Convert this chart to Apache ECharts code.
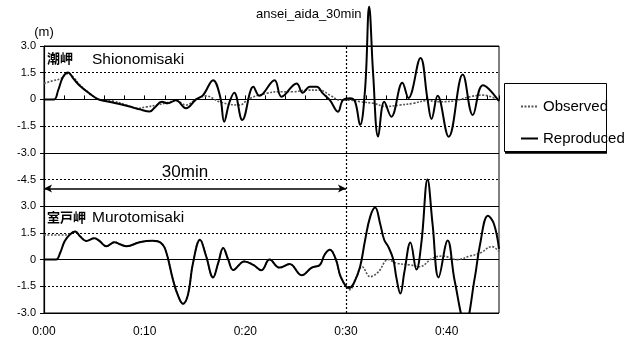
<!DOCTYPE html>
<html>
<head>
<meta charset="utf-8">
<script src="https://cdn.jsdelivr.net/npm/echarts@6/dist/echarts.min.js"></script>
<style>
  html, body { margin: 0; padding: 0; background: #fff; }
  #chart { width: 631px; height: 340px; }
</style>
</head>
<body>
<div id="chart"></div>
<script>
// 潮岬 / 室戸岬 observed vs reproduced tide (m), time in minutes
const shionoObsT = [0,0.9,1.7,2.4,3.0,3.5,4.5,5.5,6.9,8.2,9.2,10.2,11.2,12.2,13.1,14.1,15.1,16.1,17.5,19.4,20.4,22.1,23.4,24.7,26.1,27.4,28.4,29.4,30.4,31.4,32.7,34.0,35.3,36.7,38.0,39.3,40.9,42.3,43.6,45.2];
const shionoObsV = [0.9,1.05,1.18,1.46,1.2,0.85,0.35,0,-0.1,-0.32,-0.5,-0.42,-0.32,-0.19,-0.07,-0.32,0,0.19,-0.15,-0.32,0.05,0.34,0.43,0.43,0.52,0.52,0.24,-0.04,-0.04,-0.13,-0.22,-0.4,-0.32,-0.22,-0.07,-0.13,-0.07,0.15,0.24,-0.05];

const shionoRepT = [0,1.0,1.4,1.9,2.4,2.9,3.5,4.5,5.4,6.2,7.5,8.5,9.5,10.5,11.0,11.7,12.3,13.1,14.1,15.1,15.8,16.8,17.5,17.9,18.4,18.9,19.7,20.8,21.4,22.9,23.6,25.1,25.7,26.4,27.1,27.7,28.4,29.2,29.7,30.4,30.9,31.4,31.9,32.3,32.7,33.2,33.8,34.5,35.6,36.2,37.4,38.1,38.5,39.1,40.2,41.6,42.6,43.6,45.2];
const shionoRepV = [0,0,0.5,1.27,1.51,1.18,0.8,0.34,0,-0.1,-0.26,-0.4,-0.56,-0.68,-0.45,-0.13,-0.22,-0.05,-0.5,0,0.24,1.08,0.15,-1.25,-0.2,0.37,-1.16,0.71,0.2,1.08,0.15,0.9,0.37,0.71,0.71,0.34,-0.04,-0.69,-0.04,0.06,-0.13,-1.44,0.6,5.2,1.4,-2.09,-0.13,-0.97,0.93,0.08,2.33,0,-1.1,0.2,-2.1,1.4,-0.87,0.8,-0.1];

const murotoObsT = [0,2.0,2.55,3.1,3.6,4.2,5.0,5.5,6.2,7.0,7.6,8.2,9.5,10.8,11.6,12.1,12.8,13.3,13.8,14.3,14.8,15.5,16.1,16.8,17.3,17.8,18.3,18.8,19.9,20.8,21.6,22.4,23.4,24.4,25.6,26.6,27.4,27.9,28.4,29.0,29.5,30.4,31.0,31.6,32.4,33.2,34.2,35.0,36.4,37.3,38.6,39.6,41.0,42.3,43.3,44.5,45.2];
const murotoObsV = [1.38,1.38,1.45,1.58,1.3,1.05,1.2,1.05,0.75,0.98,0.85,0.75,0.98,1.06,0.95,0.5,-1.1,-2.0,-2.48,-1.97,-0.2,1.12,0.2,-1.0,-0.2,0.65,0,-0.58,-0.1,-0.3,-0.6,0,-0.45,-0.25,-0.88,-0.45,-0.3,0.3,0.56,0,-1.0,-1.69,-1.0,-0.4,-0.96,-0.7,0,-0.2,-0.3,-0.4,0.08,0.2,0,0.2,0.36,0.73,0.45];

const murotoRepT = [0,1.2,1.6,2.05,2.55,3.1,3.6,4.2,5.0,5.5,6.2,7.0,7.6,8.2,9.5,10.8,11.6,12.1,12.8,13.3,13.8,14.3,14.8,15.5,16.1,16.8,17.3,17.8,18.3,18.8,19.9,20.8,21.6,22.4,23.4,24.4,25.6,26.6,27.4,27.9,28.4,29.0,29.5,30.3,30.8,31.4,31.9,32.4,32.9,33.4,33.8,34.2,34.7,35.0,35.4,35.8,36.4,37.0,37.5,38.1,38.6,39.2,40.1,40.8,41.85,42.8,43.3,44.1,44.7,45.2];
const murotoRepV = [0,0,0.37,1.03,1.4,1.58,1.3,1.05,1.2,1.05,0.75,0.98,0.85,0.75,0.98,1.06,0.95,0.5,-1.1,-2.0,-2.48,-1.97,-0.2,1.12,0.2,-1.0,-0.2,0.65,0,-0.58,-0.1,-0.3,-0.6,0,-0.45,-0.25,-0.88,-0.45,-0.3,0.3,0.56,0,-1.0,-1.6,-1.3,-0.4,1.1,2.4,2.92,2.0,1.1,0.73,0,-1.0,-1.91,-0.7,0.96,-0.56,1.0,4.5,2.0,-1.0,1.07,-1.2,-3.6,-1.0,0.8,2.47,2.0,0.6];

// lower panel is drawn on the same axis, shifted down by 9 m
const murotoOffset = -9;
const markTime = 30; // "30min" marker

const FONT = "'Liberation Sans', Arial, sans-serif";

function zip(t, v, off) {
  return t.map((x, i) => [x, v[i] + (off || 0)]);
}
function fmtVal(v) {
  if (Math.abs(v) < 1e-9) return '0';
  return v.toFixed(1);
}
function fmtTime(m) {
  return '0:' + String(Math.round(m)).padStart(2, '0');
}

const obsStyle = { color: '#555', width: 1.6, type: [2, 1.5] };
const repStyle = { color: '#000', width: 2 };

const chart = echarts.init(document.getElementById('chart'), null, { renderer: 'canvas' });

chart.setOption({
  animation: false,
  backgroundColor: '#fff',
  textStyle: { fontFamily: FONT, color: '#000' },
  title: {
    text: 'ansei_aida_30min',
    left: 256, top: 8, padding: 0,
    textStyle: { fontSize: 13, fontWeight: 'normal', color: '#000', fontFamily: FONT }
  },
  legend: {
    data: ['Observed', 'Reproduced'],
    orient: 'vertical',
    left: 520, top: 99,
    itemWidth: 17, itemHeight: 14, itemGap: 17,
    padding: 0,
    itemStyle: { opacity: 0 },
    textStyle: { fontSize: 15, color: '#000', fontFamily: FONT }
  },
  grid: { left: 44, right: 132, top: 46, bottom: 27, show: true, borderColor: '#000', borderWidth: 1 },
  xAxis: [{
    type: 'value', min: 0, max: 45.2, interval: 10,
    name: '(hr)', nameLocation: 'end', nameGap: 6,
    nameTextStyle: { fontSize: 13, color: '#000', verticalAlign: 'middle' },
    axisLine: { show: true, lineStyle: { color: '#000', width: 1.2 } },
    axisTick: { show: false },
    axisLabel: { color: '#000', fontSize: 12, margin: 13, showMaxLabel: false, formatter: fmtTime },
    splitLine: { show: false }
  }, {
    type: 'value', min: 0, max: 45.2, interval: 2, position: 'bottom',
    axisLine: { show: false },
    axisTick: { show: true, inside: true, length: 4, lineStyle: { color: '#000' } },
    axisLabel: { show: false },
    splitLine: { show: false }
  }],
  yAxis: [{
    type: 'value', min: -12, max: 3, interval: 1.5,
    name: '(m)', nameLocation: 'end', nameGap: 7,
    nameTextStyle: { fontSize: 13, color: '#000' },
    axisLine: { show: true, lineStyle: { color: '#000', width: 1.2 } },
    axisTick: { show: true, length: 4, lineStyle: { color: '#000' } },
    axisLabel: {
      color: '#000', fontSize: 11, margin: 8,
      formatter: v => fmtVal(v > -5 ? v : v - murotoOffset)
    },
    splitLine: { show: true, lineStyle: { color: '#000', width: 1, type: [2, 2] } }
  }, {
    type: 'value', min: -12, max: 3, interval: 3, position: 'left',
    axisLine: { show: false }, axisTick: { show: false }, axisLabel: { show: false },
    splitLine: { show: true, lineStyle: { color: '#000', width: 1.2 } }
  }],
  graphic: [
    { type: 'rect', z: 1, shape: { x: 504.5, y: 83.5, width: 102, height: 68 },
      style: { fill: '#fff', stroke: '#000', lineWidth: 1 } },
    { type: 'line', z: 1, shape: { x1: 505, y1: 152.5, x2: 607, y2: 152.5 },
      style: { stroke: '#000', lineWidth: 2.5 } },
    { type: 'text', z: 10, x: 47, y: 58,
      style: { text: '潮岬', font: "bold 13px 'Noto Sans CJK JP'", fill: '#000', verticalAlign: 'middle' } },
    { type: 'text', z: 10, x: 92, y: 60,
      style: { text: 'Shionomisaki', font: "15.5px " + FONT, fill: '#000', verticalAlign: 'middle' } },
    { type: 'text', z: 10, x: 47, y: 217,
      style: { text: '室戸岬', font: "bold 13px 'Noto Sans CJK JP'", fill: '#000', verticalAlign: 'middle' } },
    { type: 'text', z: 10, x: 92, y: 218,
      style: { text: 'Murotomisaki', font: "15.5px " + FONT, fill: '#000', verticalAlign: 'middle' } },
    { type: 'text', z: 10, x: 185, y: 172,
      style: { text: '30min', font: "17px " + FONT, fill: '#000', align: 'center', verticalAlign: 'middle' } }
  ],
  series: [
    {
      name: 'Observed', type: 'line', symbol: 'none', showSymbol: false, smooth: 0.4, clip: false,
      lineStyle: obsStyle, itemStyle: { color: '#555' },
      data: zip(shionoObsT, shionoObsV),
      markLine: {
        silent: true, symbol: 'none', label: { show: false },
        lineStyle: { color: '#000', width: 1.2, type: [2, 2] },
        data: [{ xAxis: markTime }]
      }
    },
    {
      name: 'Reproduced', type: 'line', symbol: 'none', showSymbol: false, smooth: 0.4, clip: false,
      lineStyle: repStyle, itemStyle: { color: '#000' },
      data: zip(shionoRepT, shionoRepV),
      markLine: {
        silent: true, symbol: ['arrow', 'arrow'], symbolSize: [6, 8], label: { show: false },
        lineStyle: { color: '#000', width: 1.5, type: 'solid' },
        data: [[{ coord: [0, -5] }, { coord: [markTime, -5] }]]
      }
    },
    {
      name: 'Observed', type: 'line', symbol: 'none', showSymbol: false, smooth: 0.4, clip: true,
      lineStyle: obsStyle, itemStyle: { color: '#555' },
      data: zip(murotoObsT, murotoObsV, murotoOffset)
    },
    {
      name: 'Reproduced', type: 'line', symbol: 'none', showSymbol: false, smooth: 0.4, clip: true,
      lineStyle: repStyle, itemStyle: { color: '#000' },
      data: zip(murotoRepT, murotoRepV, murotoOffset)
    }
  ]
});
</script>
</body>
</html>
